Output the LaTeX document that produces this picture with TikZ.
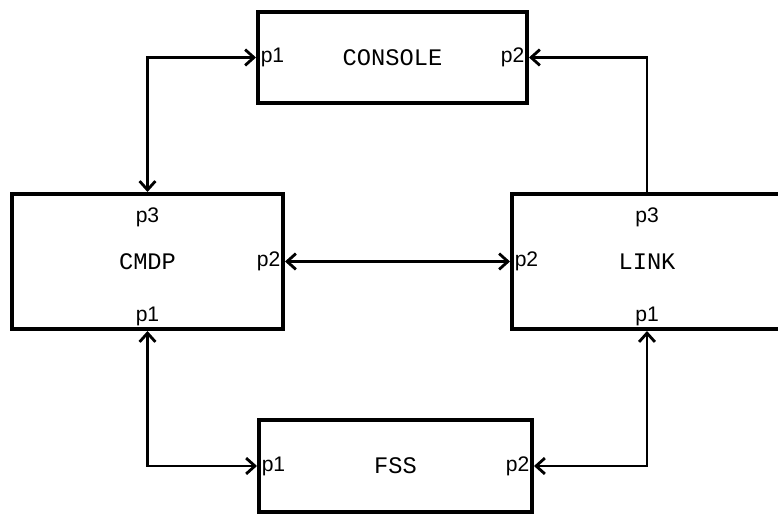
\documentclass[tikz,border=0pt]{standalone}
\usepackage{fontspec}
\setmainfont{Liberation Sans}
\setmonofont{Liberation Mono}
\usetikzlibrary{arrows.meta, positioning}

\begin{document}
\begin{tikzpicture}[
        x=0.02cm, y=-0.02cm,
        >={Straight Barb[length=5pt, width=9pt, line width=1.6pt]},
        block/.style={draw, rectangle, line width=2.3pt, inner sep=0pt, font=\ttfamily\fontsize{13.5}{16}\selectfont},
        port/.style={inner sep=2.5pt, font=\large},
        arrow/.style={line width=1.7pt, <->},
        oneway/.style={line width=1.7pt, ->}
    ]
        \useasboundingbox (0,0) rectangle (778,517);
        % Blocks
        \node[block, minimum width=5.38cm, minimum height=1.82cm] (console) at (392.5,57.5) {CONSOLE};
        \node[block, minimum width=5.42cm, minimum height=2.7cm] (cmdp) at (147.5,261.5) {CMDP};
        \node[block, minimum width=5.4cm, minimum height=2.7cm] (link) at (647,261.5) {LINK};
        \node[block, minimum width=5.46cm, minimum height=1.84cm] (fss) at (395.5,466) {FSS};

        % Ports
        \node[port, anchor=west] (conp1) at (console.west) {p1};
        \node[port, anchor=east] (conp2) at (console.east) {p2};
        \node[port, anchor=north] (cmdp3) at ([yshift=-6pt]cmdp.north) {p3};
        \node[port, anchor=east] (cmdp2) at (cmdp.east) {p2};
        \node[port, anchor=south] (cmdp1) at (cmdp.south) {p1};
        \node[port, anchor=north] (linkp3) at ([yshift=-6pt]link.north) {p3};
        \node[port, anchor=west] (linkp2) at (link.west) {p2};
        \node[port, anchor=south] (linkp1) at (link.south) {p1};
        \node[port, anchor=west] (fssp1) at (fss.west) {p1};
        \node[port, anchor=east] (fssp2) at (fss.east) {p2};

        % Connectors
        \draw[arrow] (cmdp.north) |- (console.west);
        \draw[oneway] (link.north) |- (console.east);
        \draw[arrow] (cmdp.east) -- (link.west);
        \draw[arrow] (cmdp.south) |- (fss.west);
        \draw[arrow] (link.south) |- (fss.east);
    \end{tikzpicture}
\end{document}
